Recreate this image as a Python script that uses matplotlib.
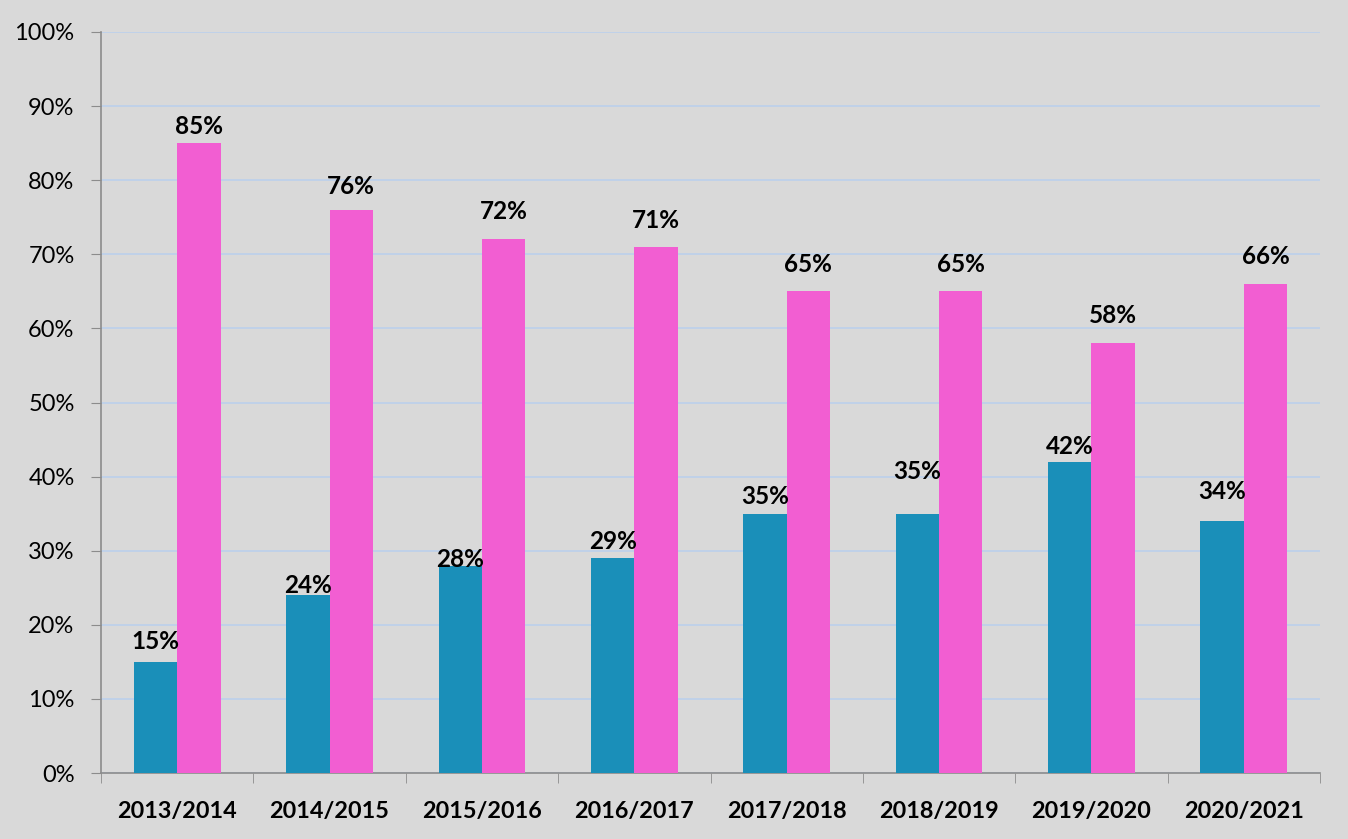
import matplotlib.pyplot as plt
import numpy as np
from matplotlib.ticker import PercentFormatter

plt.rcParams['font.family'] = ['Lato', 'DejaVu Sans']

# data
seasons = ["2013/2014", "2014/2015", "2015/2016", "2016/2017",
           "2017/2018", "2018/2019", "2019/2020", "2020/2021"]
teal_vals = [15, 24, 28, 29, 35, 35, 42, 34]
pink_vals = [85, 76, 72, 71, 65, 65, 58, 66]

# label lift above the bar top (points), as placed in the original
teal_lift = [15, 7, 4, 12, 12, 30, 11, 21]
pink_lift = [12, 17, 20, 19, 19, 19, 20, 20]

bg = "#D9D9D9"
teal = "#1A8FB9"
pink = "#F25ED2"

fig = plt.figure(figsize=(13.48, 8.39), dpi=100, facecolor=bg)
ax = fig.add_axes([101 / 1348, 1 - 773 / 839, (1320 - 101) / 1348, (773 - 32) / 839])
ax.set_facecolor(bg)

x = np.arange(len(seasons))
w = 0.285
b1 = ax.bar(x - w / 2, teal_vals, w, color=teal, zorder=3)
b2 = ax.bar(x + w / 2, pink_vals, w, color=pink, zorder=3)

for bars, vals, lifts in ((b1, teal_vals, teal_lift), (b2, pink_vals, pink_lift)):
    for r, v, l in zip(bars, vals, lifts):
        ax.annotate(f"{v}%", (r.get_x() + r.get_width() / 2, v),
                    xytext=(0, l), textcoords="offset points",
                    ha="center", va="center", fontsize=17.5, fontweight="bold",
                    zorder=4)

ax.set_xlim(-0.5, len(seasons) - 0.5)
ax.set_ylim(0, 100)
ax.set_yticks(np.arange(0, 101, 10))
ax.yaxis.set_major_formatter(PercentFormatter(decimals=0))
ax.grid(axis="y", color="#BCD0EC", linewidth=1.2, zorder=0)

ax.set_xticks(x)
ax.set_xticklabels(seasons, fontsize=16.8, fontweight="bold")
ax.set_xticks(np.arange(-0.5, len(seasons)), minor=True)
ax.tick_params(axis="x", which="major", length=0, pad=20)
ax.tick_params(axis="x", which="minor", length=7, color="#8C8C8C")
ax.tick_params(axis="y", labelsize=17, length=7, color="#8C8C8C", pad=12)

for s in ("top", "right"):
    ax.spines[s].set_visible(False)
for s in ("left", "bottom"):
    ax.spines[s].set_color("#8C8C8C")
    ax.spines[s].set_linewidth(1.2)

fig.savefig("out.png", dpi=100, facecolor=bg)
